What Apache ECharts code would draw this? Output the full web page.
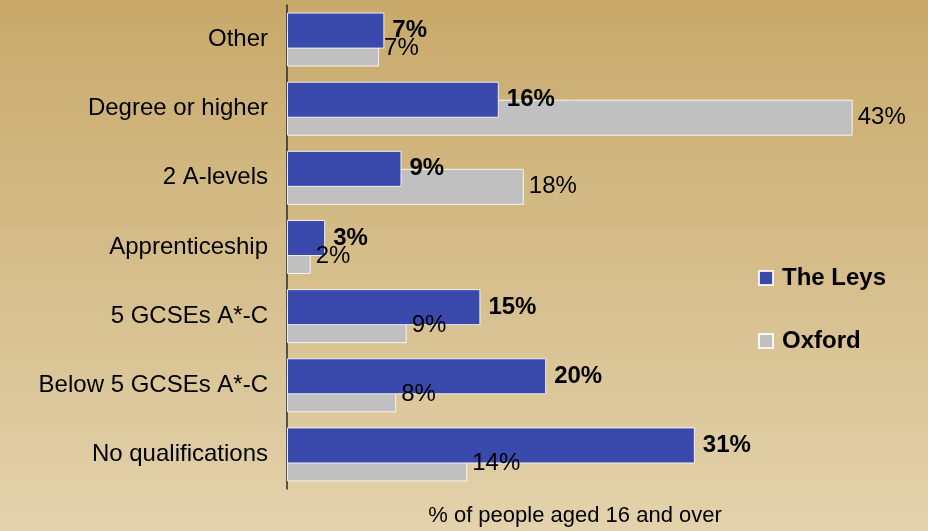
<!DOCTYPE html>
<html>
<head>
<meta charset="utf-8">
<script src="https://cdn.jsdelivr.net/npm/echarts@6/dist/echarts.min.js"></script>
<style>
html,body{margin:0;padding:0;}
#chart{width:928px;height:531px;}
</style>
</head>
<body>
<div id="chart"></div>
<script>
var categories = ['Other', 'Degree or higher', '2 A-levels', 'Apprenticeship', '5 GCSEs A*-C', 'Below 5 GCSEs A*-C', 'No qualifications'];
var leysValues = [7.4, 16.1, 8.7, 2.9, 14.7, 19.7, 31.0];
var oxfordValues = [7.0, 43.0, 18.0, 1.8, 9.1, 8.3, 13.7];
var seriesNames = ['The Leys', 'Oxford'];
var axisTitle = '% of people aged 16 and over';

var chart = echarts.init(document.getElementById('chart'));
var fontFamily = '"Liberation Sans", Arial, sans-serif';
function pct(p) { return Math.round(p.value) + '%'; }

chart.setOption({
  backgroundColor: {
    type: 'linear', x: 0, y: 0, x2: 0, y2: 1,
    colorStops: [{offset: 0, color: '#c8a96a'}, {offset: 1, color: '#e3d2ac'}]
  },
  animation: false,
  grid: {left: 287, right: 49, top: 5, bottom: 42, containLabel: false},
  xAxis: {
    type: 'value', min: 0, max: 45,
    axisLine: {show: false}, axisTick: {show: false},
    axisLabel: {show: false}, splitLine: {show: false}
  },
  yAxis: {
    type: 'category', data: categories, inverse: true,
    axisLine: {show: true, lineStyle: {color: '#2a2a2a', width: 1.5}},
    axisTick: {show: false},
    axisLabel: {color: '#000', fontSize: 24, fontFamily: fontFamily, margin: 19}
  },
  legend: {
    orient: 'vertical', left: 753, top: 261,
    itemWidth: 14, itemHeight: 14, itemGap: 39,
    icon: 'rect',
    textStyle: {color: '#000', fontSize: 24, fontWeight: 'bold', fontFamily: fontFamily, lineHeight: 24, padding: [0, 0, 0, 4]},
    data: seriesNames
  },
  graphic: [{
    type: 'text', x: 575, y: 516,
    style: {text: axisTitle, fill: '#000', fontSize: 22, fontFamily: fontFamily, textAlign: 'center', textVerticalAlign: 'middle'}
  }],
  series: [
    {
      name: seriesNames[1], type: 'bar', data: oxfordValues, z: 2,
      barWidth: 36, barGap: '-150%',
      itemStyle: {color: '#c0c0c0', borderColor: 'rgba(255,255,255,0.85)', borderWidth: 1},
      label: {show: true, position: 'right', distance: 5, formatter: pct, color: '#000', fontSize: 24, fontFamily: fontFamily}
    },
    {
      name: seriesNames[0], type: 'bar', data: leysValues, z: 2,
      barWidth: 36, barGap: '-150%',
      itemStyle: {color: '#3a4aac', borderColor: 'rgba(255,255,255,0.85)', borderWidth: 1},
      label: {show: true, position: 'right', distance: 8, formatter: pct, color: '#000', fontSize: 24, fontWeight: 'bold', fontFamily: fontFamily}
    }
  ]
});
</script>
</body>
</html>
